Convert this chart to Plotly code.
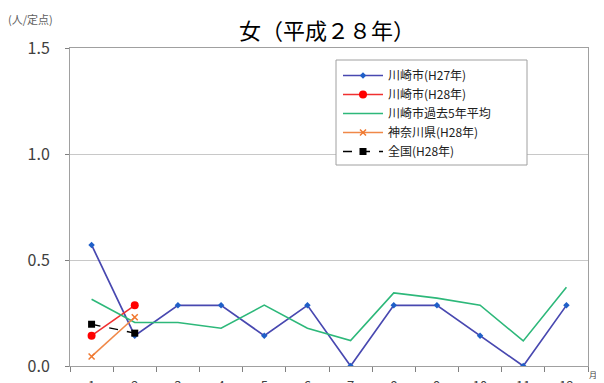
import plotly.graph_objects as go

months = ["1", "2", "3", "4", "5", "6", "7", "8", "9", "10", "11", "12"]
kawasaki_h27 = [0.571, 0.143, 0.286, 0.286, 0.143, 0.286, 0.0, 0.286, 0.286, 0.143, 0.0, 0.286]
kawasaki_h28 = [0.143, 0.286]
kawasaki_5yr = [0.315, 0.205, 0.205, 0.178, 0.287, 0.178, 0.12, 0.345, 0.32, 0.287, 0.118, 0.372]
kanagawa_h28 = [0.045, 0.23]
zenkoku_h28 = [0.197, 0.155]
y_ticks = [0.0, 0.5, 1.0, 1.5]

fig = go.Figure()
fig.add_trace(go.Scatter(x=months, y=kawasaki_h27, name="川崎市(H27年)", mode="lines+markers",
                         line=dict(color="#4848B0", width=1.7),
                         marker=dict(symbol="diamond", size=5, color="#1F5FC8")))
fig.add_trace(go.Scatter(x=months[:2], y=kawasaki_h28, name="川崎市(H28年)", mode="lines+markers",
                         line=dict(color="#F03030", width=1.6),
                         marker=dict(symbol="circle", size=8, color="#FF0000")))
fig.add_trace(go.Scatter(x=months, y=kawasaki_5yr, name="川崎市過去5年平均", mode="lines",
                         line=dict(color="#2DB87A", width=1.6)))
fig.add_trace(go.Scatter(x=months[:2], y=kanagawa_h28, name="神奈川県(H28年)", mode="lines+markers",
                         line=dict(color="#F08848", width=1.6),
                         marker=dict(symbol="x-thin", size=6, color="#F07830",
                                     line=dict(color="#F07830", width=1.5))))
fig.add_trace(go.Scatter(x=months[:2], y=zenkoku_h28, name="全国(H28年)", mode="lines+markers",
                         line=dict(color="#000000", width=1.3, dash="dash"),
                         marker=dict(symbol="square", size=7, color="#000000")))

font_family = "Noto Sans CJK JP, Noto Sans, sans-serif"
# page body has an 8px default margin; compensate so pixel positions match the window
O = 8
W, H = 604 - O, 383 - O
l, r, t, b = 70 - O, 16, 48 - O, 17
pw, ph = W - l - r, H - t - b


def px(x):
    return (x - O - l) / pw


def py(y):
    return 1 - (y - O - t) / ph


fig.update_layout(
    width=W, height=H,
    margin=dict(l=l, r=r, t=t, b=b, autoexpand=False),
    paper_bgcolor="white", plot_bgcolor="white",
    font=dict(family=font_family, color="#404040"),
    showlegend=True,
    legend=dict(x=px(338), y=py(61), xanchor="left", yanchor="top",
                borderwidth=0, bgcolor="rgba(0,0,0,0)",
                font=dict(size=12, color="#202020"), tracegroupgap=0,
                itemwidth=40),
    shapes=[dict(type="rect", xref="paper", yref="paper",
                 x0=px(336), x1=px(527), y0=py(60), y1=py(165),
                 line=dict(color="#A0A0A0", width=1), fillcolor="white", layer="above")],
    xaxis=dict(type="category", categoryorder="array", categoryarray=months,
               automargin=False,
               showline=True, linecolor="#A0A0A0", linewidth=1, mirror=True,
               ticks="outside", ticklen=5, tickcolor="#808080", tickson="boundaries",
               showgrid=False, tickfont=dict(size=13, color="#404040"),
               ticklabelstandoff=8,
               range=[-0.5, 11.5]),
    yaxis=dict(range=[0, 1.5], tickvals=y_ticks, ticktext=["0.0", "0.5", "1.0", "1.5"],
               automargin=False,
               showline=True, linecolor="#A0A0A0", linewidth=1, mirror=True,
               ticks="outside", ticklen=4, tickcolor="#808080",
               showgrid=True, gridcolor="#C8C8C8", gridwidth=1,
               ticklabelstandoff=12,
               tickfont=dict(size=16, color="#404040"), zeroline=False),
    annotations=[
        dict(text="女（平成２８年）", x=px(327), y=py(29), xref="paper", yref="paper",
             showarrow=False, xanchor="center", yanchor="middle",
             font=dict(size=22, color="#000000", family=font_family)),
        dict(text="(人/定点)", x=px(30), y=py(19), xref="paper", yref="paper",
             showarrow=False, xanchor="center", yanchor="middle",
             font=dict(size=11, color="#606060", family=font_family)),
        dict(text="月", x=px(593), y=py(374), xref="paper", yref="paper",
             showarrow=False, xanchor="center", yanchor="middle",
             font=dict(size=8, color="#404040", family=font_family)),
    ],
)
fig.write_html("out.html")
